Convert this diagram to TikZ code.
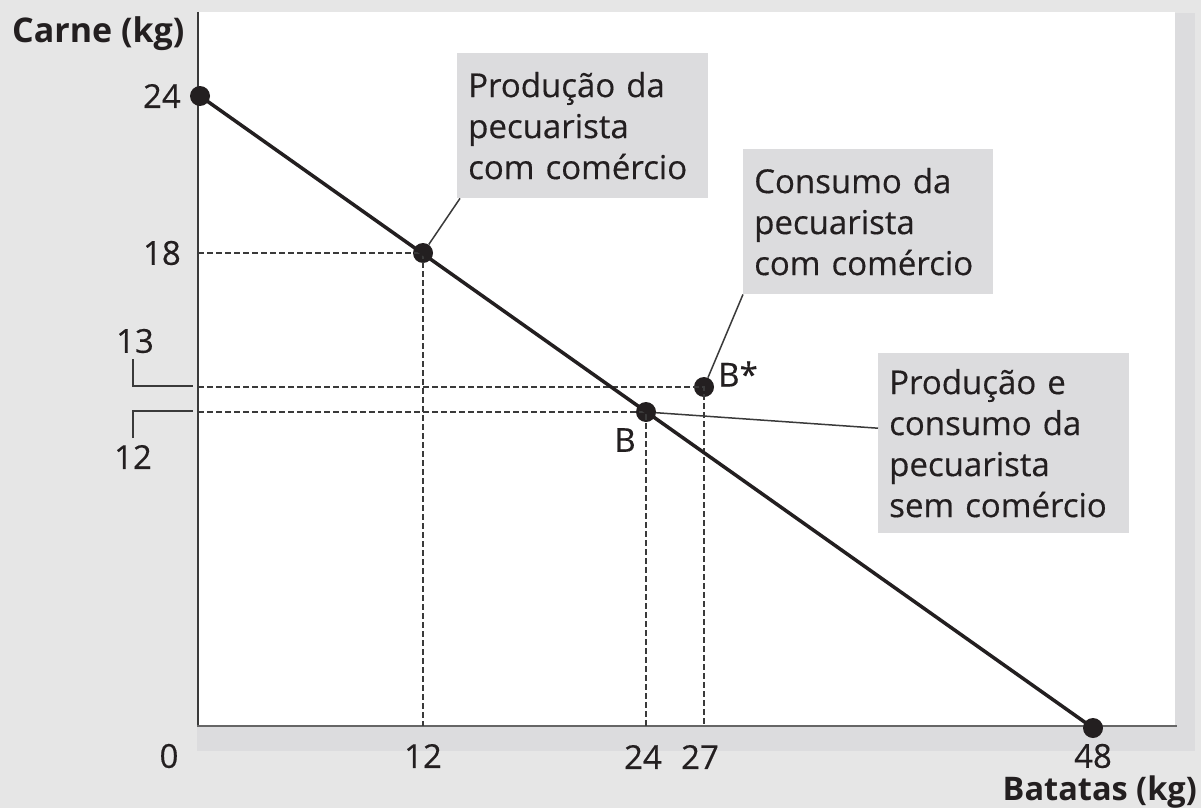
\documentclass[tikz,border=0pt]{standalone}
\usepackage{fontspec}
\setmainfont{Open Sans}
\definecolor{ink}{HTML}{231F20}
\definecolor{bgc}{HTML}{E6E6E6}
\definecolor{shadec}{HTML}{DCDCDE}
\definecolor{axc}{HTML}{3A3A3A}
\newcommand{\txtfont}{\fontsize{33}{41}\selectfont\addfontfeature{FakeBold=0.4}}
\begin{document}
\begin{tikzpicture}[x=1pt,y=-1pt,
  dot/.style={circle,fill=ink,inner sep=0pt,minimum size=20pt},
  mainline/.style={draw=ink,line width=3.5pt},
  guide/.style={draw=axc,line width=1.3pt,dash pattern=on 6pt off 3pt},
  conn/.style={draw=axc,line width=1.5pt},
  brk/.style={draw=axc,line width=1.7pt},
  lbl/.style={text=ink,inner sep=0pt,font=\txtfont},
  ttl/.style={text=ink,inner sep=0pt,font=\fontsize{34}{40}\selectfont\bfseries},
  box/.style={fill=shadec,text=ink,anchor=north west,align=left,inner xsep=11pt,inner ysep=0pt,
     font=\txtfont},
]
\useasboundingbox (0,0) rectangle (1201,808);
\fill[bgc] (0,0) rectangle (1201,808);
\fill[shadec] (1175,13) rectangle (1195,751);
\fill[shadec] (197,726) rectangle (1195,751);
\fill[white] (198,12) rectangle (1175,726);
\coordinate (O) at (198,726);
\draw[draw=axc,line width=2pt] (198,12) -- (O);
\draw[draw=gray!80!black,line width=2.5pt] (197,726) -- (1177,726);

% points
\node[dot] (A) at (200,96) {};
\node[dot] (P) at (423,253) {};
\node[dot] (B) at (646,412) {};
\node[dot] (Bs) at (704,387) {};
\node[dot] (E) at (1093,728) {};

% guides
\draw[guide] (P.center -| O) -- (P.center) -- (P.center |- O);
\draw[guide] (Bs.center -| O) -- (Bs.center) -- (Bs.center |- O);
\draw[guide] (B.center -| O) -- (B.center) -- (B.center |- O);

\draw[mainline] (A.center) -- (E.center);

% boxes
\node[box,text width=229pt,minimum height=145pt] (b1) at (457,53)
  {Produção da\\pecuarista\\com comércio};
\node[box,text width=228pt,minimum height=145pt] (b2) at (743,149)
  {Consumo da\\pecuarista\\com comércio};
\node[box,text width=229pt,minimum height=180pt] (b3) at (878,353)
  {Produção e\\consumo da\\pecuarista\\sem comércio};

\draw[conn] (P) -- ([xshift=3pt]b1.south west);
\draw[conn] (Bs) -- (b2.south west);
\draw[conn] (B) -- ([yshift=15pt]b3.west);

% axis labels
\node[ttl,anchor=base west] (ty) at (12,43) {Carne (kg)};
\node[ttl,anchor=base east,font=\fontsize{32.5}{40}\selectfont\bfseries] (tx) at (1197,800) {Batatas (kg)};
\node[lbl,anchor=east] (y24) at (181,96) {24};
\node[lbl,anchor=east] (y18) at (181,253) {18};
\node[lbl] (y13) at (135,341) {13};
\node[lbl] (y12) at (133,457) {12};
\draw[brk] (133,359) |- (193,386);
\draw[brk] (133,438) |- (193,411);
\node[lbl] (x0) at (169,756) {0};
\node[lbl] (x12) at (423,756) {12};
\node[lbl] (x24) at (643,757) {24};
\node[lbl] (x27) at (700,757) {27};
\node[lbl] (x48) at (1093,756) {48};
\node[lbl] (lBs) at (738,374) {B*};
\node[lbl] (lB) at (625,440) {B};
\end{tikzpicture}
\end{document}
